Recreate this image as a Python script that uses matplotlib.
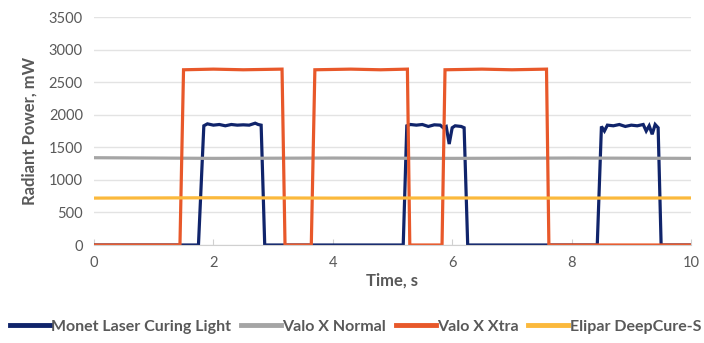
import matplotlib
matplotlib.use("Agg")
import matplotlib.pyplot as plt

plt.rcParams["font.family"] = ["Lato", "DejaVu Sans"]

# Monet Laser Curing Light (three pulses)
monet_t = [0, 1.75, 1.84, 1.9, 2.0, 2.1, 2.2, 2.3, 2.4, 2.5, 2.6, 2.7, 2.75, 2.8, 2.86,
           5.18, 5.24, 5.3, 5.4, 5.5, 5.6, 5.7, 5.8, 5.85, 5.9, 5.95, 6.0, 6.05, 6.15, 6.2, 6.26,
           8.43, 8.5, 8.55, 8.6, 8.7, 8.8, 8.9, 9.0, 9.1, 9.2, 9.25, 9.3, 9.35, 9.4, 9.45, 9.5, 10]
monet_p = [0, 0, 1830, 1860, 1840, 1850, 1830, 1850, 1840, 1845, 1840, 1870, 1850, 1840, 0,
           0, 1830, 1850, 1840, 1850, 1820, 1845, 1840, 1800, 1820, 1550, 1800, 1830, 1820, 1800, 0,
           0, 1820, 1750, 1840, 1830, 1850, 1820, 1840, 1830, 1850, 1750, 1830, 1700, 1850, 1800, 0, 0]

# Valo X Normal (steady)
normal_t = [0, 2, 4, 6, 8, 10]
normal_p = [1340, 1330, 1335, 1330, 1335, 1330]

# Valo X Xtra (three pulses)
xtra_t = [0, 1.44, 1.5, 2.0, 2.5, 3.15, 3.2,
          3.64, 3.7, 4.3, 4.8, 5.25, 5.29,
          5.83, 5.88, 6.5, 7.0, 7.58, 7.62, 10]
xtra_p = [0, 0, 2690, 2700, 2690, 2700, 0,
          0, 2690, 2700, 2690, 2700, 0,
          0, 2690, 2700, 2690, 2700, 0, 0]

# Elipar DeepCure-S (steady)
elipar_t = [0, 2, 4, 6, 8, 10]
elipar_p = [720, 725, 720, 722, 720, 722]

series = [
    ("Monet Laser Curing Light", monet_t, monet_p, "#10246b"),
    ("Valo X Normal", normal_t, normal_p, "#a5a5a5"),
    ("Valo X Xtra", xtra_t, xtra_p, "#e8582a"),
    ("Elipar DeepCure-S", elipar_t, elipar_p, "#fbb93c"),
]

fig = plt.figure(figsize=(7.04, 3.43), dpi=100)
ax = fig.add_axes([0.1335, 0.2857, 0.848, 0.6647])

for name, t, p, c in series:
    ax.plot(t, p, color=c, lw=2.3, label=name, solid_joinstyle="miter")

ax.set_xlim(0, 10)
ax.set_ylim(0, 3500)
ax.set_xticks([0, 2, 4, 6, 8, 10])
ax.set_yticks(range(0, 3501, 500))
ax.yaxis.grid(True, color="#e3e3e3", lw=1)
ax.set_axisbelow(True)
for s in ["top", "right", "left"]:
    ax.spines[s].set_visible(False)
ax.spines["bottom"].set_color("#d0d0d0")
ax.tick_params(axis="y", length=0, labelsize=10.5, labelcolor="#595959", pad=8)
ax.tick_params(axis="x", direction="in", length=4, color="#d0d0d0",
               labelsize=10.5, labelcolor="#595959", pad=8)

ax.set_xlabel("Time, s", fontsize=12, color="#595959", fontweight="bold", labelpad=2)
ax.set_ylabel("Radiant Power, mW", fontsize=12, color="#595959", fontweight="bold", labelpad=8)

fig.legend(loc="lower center", bbox_to_anchor=(0.505, -0.015), ncol=4, frameon=False,
           handlelength=2.5, handletextpad=0.1, columnspacing=0.6,
           prop={"size": 11.5, "weight": "bold"}, labelcolor="#595959")
for h in fig.legends[0].get_lines():
    h.set_linewidth(3.5)

fig.savefig("out.png", dpi=100)
